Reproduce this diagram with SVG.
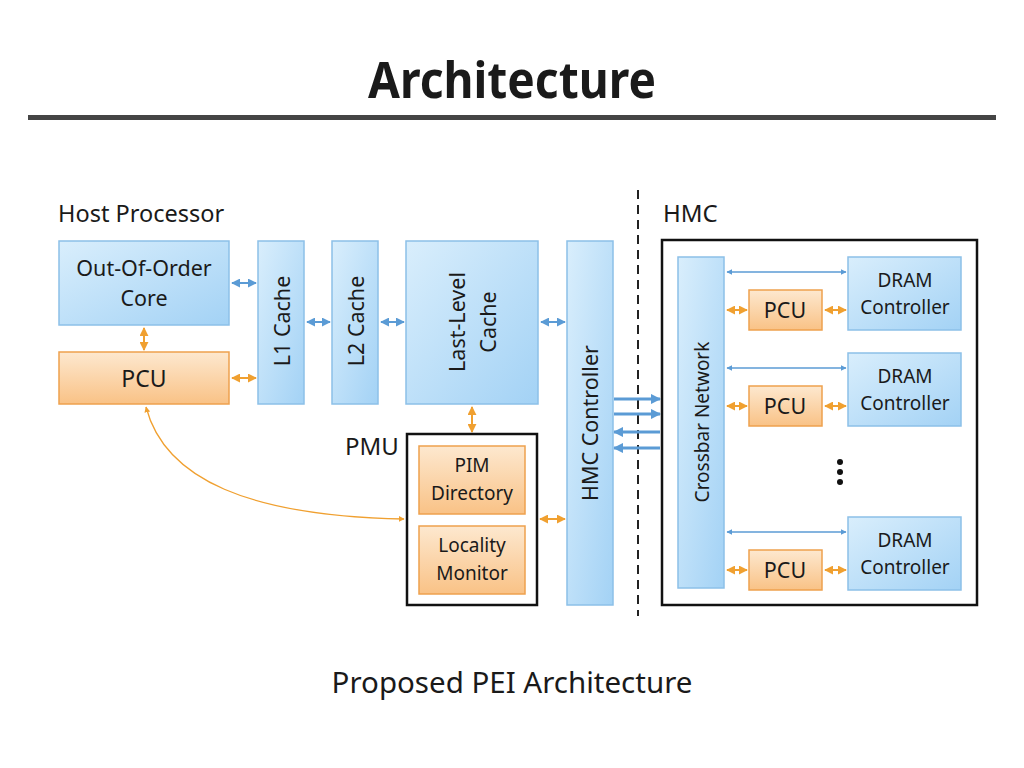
<svg xmlns="http://www.w3.org/2000/svg" width="1024" height="768" viewBox="0 0 1024 768">
<defs>
<linearGradient id="gb" x1="0" y1="0" x2="1" y2="1">
<stop offset="0" stop-color="#d9eefc"/><stop offset="1" stop-color="#a3d2f5"/>
</linearGradient>
<linearGradient id="go" x1="0" y1="0" x2="0" y2="1">
<stop offset="0" stop-color="#fde8cf"/><stop offset="1" stop-color="#f9c286"/>
</linearGradient>
<marker id="ab" viewBox="0 0 10 10" refX="9" refY="5" markerWidth="4.5" markerHeight="4.5" orient="auto-start-reverse" markerUnits="strokeWidth"><path d="M0,0 L10,5 L0,10 z" fill="#5b9bd5"/></marker>
<marker id="ao" viewBox="0 0 10 10" refX="9" refY="5" markerWidth="4.5" markerHeight="4.5" orient="auto-start-reverse" markerUnits="strokeWidth"><path d="M0,0 L10,5 L0,10 z" fill="#f0a030"/></marker>
<marker id="abt" viewBox="0 0 10 10" refX="9" refY="5" markerWidth="3.5" markerHeight="3.5" orient="auto" markerUnits="strokeWidth"><path d="M0,0 L10,5 L0,10 z" fill="#5b9bd5"/></marker>
</defs>
<style>
text{font-family:"Noto Sans","Open Sans","Liberation Sans",sans-serif;fill:#1a1a1a}
.b{fill:url(#gb);stroke:#8cc0e8;stroke-width:1.5}
.o{fill:url(#go);stroke:#eea14e;stroke-width:1.5}
.frame{fill:none;stroke:#111;stroke-width:2.5}
.cb{stroke:#5b9bd5;stroke-width:2;fill:none;marker-start:url(#ab);marker-end:url(#ab)}
.cbt{stroke:#5b9bd5;stroke-width:1.3;fill:none;marker-start:url(#ab);marker-end:url(#ab)}
.co{stroke:#f0a030;stroke-width:2;fill:none;marker-start:url(#ao);marker-end:url(#ao)}
.thick{stroke:#5b9bd5;stroke-width:3;fill:none;marker-end:url(#abt)}
.t{font-size:21.5px;text-anchor:middle}
.s{font-size:19px;text-anchor:middle}
</style>
<rect width="1024" height="768" fill="#fff"/>
<text x="512" y="98" font-size="50" font-weight="bold" text-anchor="middle" textLength="288" lengthAdjust="spacingAndGlyphs">Architecture</text>
<rect x="28" y="115" width="968" height="5" fill="#454545"/>
<text x="58" y="222" font-size="23.5">Host Processor</text>
<text x="663" y="222" font-size="24">HMC</text>
<line x1="638" y1="190" x2="638" y2="616" stroke="#222" stroke-width="2" stroke-dasharray="9,6"/>

<g id="connectors">
<line class="cb" x1="232" y1="283" x2="256" y2="283"/>
<line class="cb" x1="307" y1="322" x2="330" y2="322"/>
<line class="cb" x1="381" y1="322" x2="404" y2="322"/>
<line class="cb" x1="541" y1="322" x2="565" y2="322"/>
<line class="co" x1="144" y1="328" x2="144" y2="350"/>
<line class="co" x1="232" y1="378" x2="256" y2="378"/>
<line class="co" x1="472" y1="407" x2="472" y2="432"/>
<line class="co" x1="540" y1="519" x2="565" y2="519"/>
<path d="M146,407 C165,480 250,516 404,519" stroke="#f0a030" stroke-width="1.3" fill="none" marker-start="url(#ao)" marker-end="url(#ao)"/>
<line class="thick" x1="614" y1="399" x2="660" y2="399"/>
<line class="thick" x1="614" y1="414" x2="660" y2="414"/>
<line class="thick" x1="660" y1="432" x2="614" y2="432"/>
<line class="thick" x1="660" y1="448" x2="614" y2="448"/>
<line class="cbt" x1="727" y1="272" x2="846" y2="272"/>
<line class="co" x1="727" y1="310" x2="747" y2="310"/>
<line class="co" x1="825" y1="310" x2="846" y2="310"/>
<line class="cbt" x1="727" y1="368" x2="846" y2="368"/>
<line class="co" x1="727" y1="406" x2="747" y2="406"/>
<line class="co" x1="825" y1="406" x2="846" y2="406"/>
<line class="cbt" x1="727" y1="532" x2="846" y2="532"/>
<line class="co" x1="727" y1="570" x2="747" y2="570"/>
<line class="co" x1="825" y1="570" x2="846" y2="570"/>
</g>

<g id="ooo"><rect class="b" x="59" y="241" width="170" height="84"/>
<text class="t" x="144" y="276">Out-Of-Order</text><text class="t" x="144" y="306">Core</text></g>
<g id="pcu-host"><rect class="o" x="59" y="352" width="170" height="52"/>
<text x="144" y="387" font-size="23" text-anchor="middle">PCU</text></g>
<g id="l1"><rect class="b" x="258" y="241" width="46" height="163"/>
<text class="t" transform="translate(290,321) rotate(-90)" font-size="23">L1 Cache</text></g>
<g id="l2"><rect class="b" x="332" y="241" width="46" height="163"/>
<text class="t" transform="translate(364,321) rotate(-90)" font-size="23">L2 Cache</text></g>
<g id="llc"><rect class="b" x="406" y="241" width="132" height="163"/>
<text class="t" transform="translate(465,322) rotate(-90)">Last-Level</text>
<text class="t" transform="translate(496,322) rotate(-90)">Cache</text></g>
<g id="hmc-ctrl"><rect class="b" x="567" y="241" width="46" height="364"/>
<text class="t" transform="translate(598,423) rotate(-90)" font-size="23.5">HMC Controller</text></g>
<g id="pmu"><rect class="frame" x="407" y="434" width="130" height="171"/>
<text x="345" y="455" font-size="24">PMU</text></g>
<g id="pim"><rect class="o" x="419" y="446" width="106" height="68"/>
<text class="s" x="472" y="472">PIM</text><text class="s" x="472" y="500">Directory</text></g>
<g id="loc"><rect class="o" x="419" y="526" width="106" height="68"/>
<text class="s" x="472" y="552">Locality</text><text class="s" x="472" y="580">Monitor</text></g>
<g id="hmc"><rect class="frame" x="662" y="240" width="315" height="365"/></g>
<g id="xbar"><rect class="b" x="678" y="257" width="46" height="331"/>
<text class="s" transform="translate(709,422) rotate(-90)" font-size="20">Crossbar Network</text></g>
<g id="dram1"><rect class="b" x="848" y="257" width="113" height="73"/>
<text class="s" x="905" y="287">DRAM</text><text class="s" x="905" y="314">Controller</text></g>
<g id="dram2"><rect class="b" x="848" y="353" width="113" height="73"/>
<text class="s" x="905" y="383">DRAM</text><text class="s" x="905" y="410">Controller</text></g>
<g id="dram3"><rect class="b" x="848" y="517" width="113" height="73"/>
<text class="s" x="905" y="547">DRAM</text><text class="s" x="905" y="574">Controller</text></g>
<g id="pcu1"><rect class="o" x="749" y="290" width="73" height="40"/>
<text class="t" x="785" y="318" font-size="21">PCU</text></g>
<g id="pcu2"><rect class="o" x="749" y="386" width="73" height="40"/>
<text class="t" x="785" y="414" font-size="21">PCU</text></g>
<g id="pcu3"><rect class="o" x="749" y="550" width="73" height="40"/>
<text class="t" x="785" y="578" font-size="21">PCU</text></g>
<g id="dots" fill="#111"><circle cx="840" cy="462" r="3"/><circle cx="840" cy="472" r="3"/><circle cx="840" cy="482" r="3"/></g>
<text x="512" y="693" font-size="29.5" text-anchor="middle">Proposed PEI Architecture</text>
</svg>
